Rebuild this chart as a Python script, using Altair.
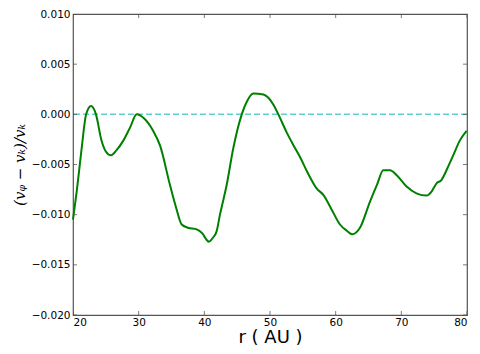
import altair as alt
import pandas as pd

r_vals = [20.0, 20.6, 21.3, 22.0, 22.74, 23.5, 24.3, 25.0, 25.79, 26.6, 27.66, 28.7, 29.7,
          30.8, 32.2, 33.25, 34.77, 35.7, 36.55, 37.5, 38.84, 39.6, 40.71, 41.3, 41.88,
          42.38, 43.4, 44.4, 45.7, 46.5, 47.46, 48.98, 50.5, 51.27, 52.54, 53.5, 54.57,
          55.8, 57.1, 58.12, 59.4, 60.66, 61.7, 62.53, 63.7, 65.23, 66.3, 67.25, 68.27,
          69.3, 70.8, 72.3, 73.85, 74.6, 75.36, 76.1, 77.0, 77.9, 78.9, 79.94]
dv_vals = [-0.0105, -0.0075, -0.0035, 0.0, 0.00083, 0.0, -0.0025, -0.0037, -0.00409, -0.0036,
           -0.00262, -0.0013, 0.0, -0.0004, -0.00164, -0.0031, -0.00705, -0.0093, -0.01098,
           -0.0113, -0.01147, -0.0118, -0.01269, -0.0123, -0.01164, -0.0100, -0.00705,
           -0.0034, 0.0, 0.0013, 0.00207, 0.00197, 0.00098, 0.0, -0.0018, -0.0030, -0.00426,
           -0.0059, -0.00738, -0.00803, -0.0095, -0.01098, -0.0116, -0.01196, -0.01131,
           -0.00869, -0.0070, -0.00557, -0.00557, -0.00606, -0.0072, -0.00787, -0.0081,
           -0.0077, -0.00688, -0.00655, -0.0054, -0.00409, -0.00262, -0.00164]

x_ticks = [20, 30, 40, 50, 60, 70, 80]
y_ticks = [-0.020, -0.015, -0.010, -0.005, 0.000, 0.005, 0.010]
zero_level = [0.0]

W, H = 394, 301

df = pd.DataFrame({"r": r_vals, "dv": dv_vals})
xt = pd.DataFrame({"t": x_ticks})
yt = pd.DataFrame({"t": y_ticks})
z = pd.DataFrame({"y": zero_level})

xscale = alt.Scale(domain=[20, 80], nice=False, zero=False)
yscale = alt.Scale(domain=[-0.020, 0.010], nice=False, zero=False)

font = "DejaVu Sans"

line = alt.Chart(df).mark_line(color="#008000", strokeWidth=2, interpolate="monotone").encode(
    x=alt.X("r:Q", scale=xscale,
            axis=alt.Axis(values=x_ticks, format="d", title="r ( AU )", tickSize=0,
                          labelPadding=2, titlePadding=1, titleFontSize=18,
                          titleFont=font, titleFontWeight="normal", grid=False, domain=False)),
    y=alt.Y("dv:Q", scale=yscale,
            axis=alt.Axis(values=y_ticks, format=".3f", title="(vᵩ − vₖ)/vₖ", tickSize=0,
                          labelPadding=3, titlePadding=4, titleFontSize=15,
                          titleFont="DejaVu Serif", titleFontWeight="normal",
                          titleFontStyle="italic", grid=False, domain=False)),
)

zero = alt.Chart(z).mark_rule(color="#5fd0d0", strokeWidth=1.5, strokeDash=[6, 3]).encode(
    y=alt.Y("y:Q", scale=yscale)
)

xt_bottom = alt.Chart(xt).mark_tick(color="#444444", size=8, thickness=1, clip=True).encode(
    x=alt.X("t:Q", scale=xscale), y=alt.value(H))
xt_top = alt.Chart(xt).mark_tick(color="#444444", size=8, thickness=1, clip=True).encode(
    x=alt.X("t:Q", scale=xscale), y=alt.value(0))
yt_left = alt.Chart(yt).mark_tick(color="#444444", size=8, thickness=1, clip=True).encode(
    y=alt.Y("t:Q", scale=yscale), x=alt.value(0))
yt_right = alt.Chart(yt).mark_tick(color="#444444", size=8, thickness=1, clip=True).encode(
    y=alt.Y("t:Q", scale=yscale), x=alt.value(W))

chart = alt.layer(zero, line, xt_bottom, xt_top, yt_left, yt_right).properties(
    width=W, height=H,
    autosize=alt.AutoSizeParams(type="none"),
    padding={"left": 65, "top": 6, "right": 5, "bottom": 39},
).configure_view(
    stroke="#555555", strokeWidth=1.2
).configure_axis(
    labelFont=font, labelFontSize=10.5, labelColor="black", titleColor="black"
)

chart.save("out.html", embed_options={"renderer": "svg", "actions": False})
